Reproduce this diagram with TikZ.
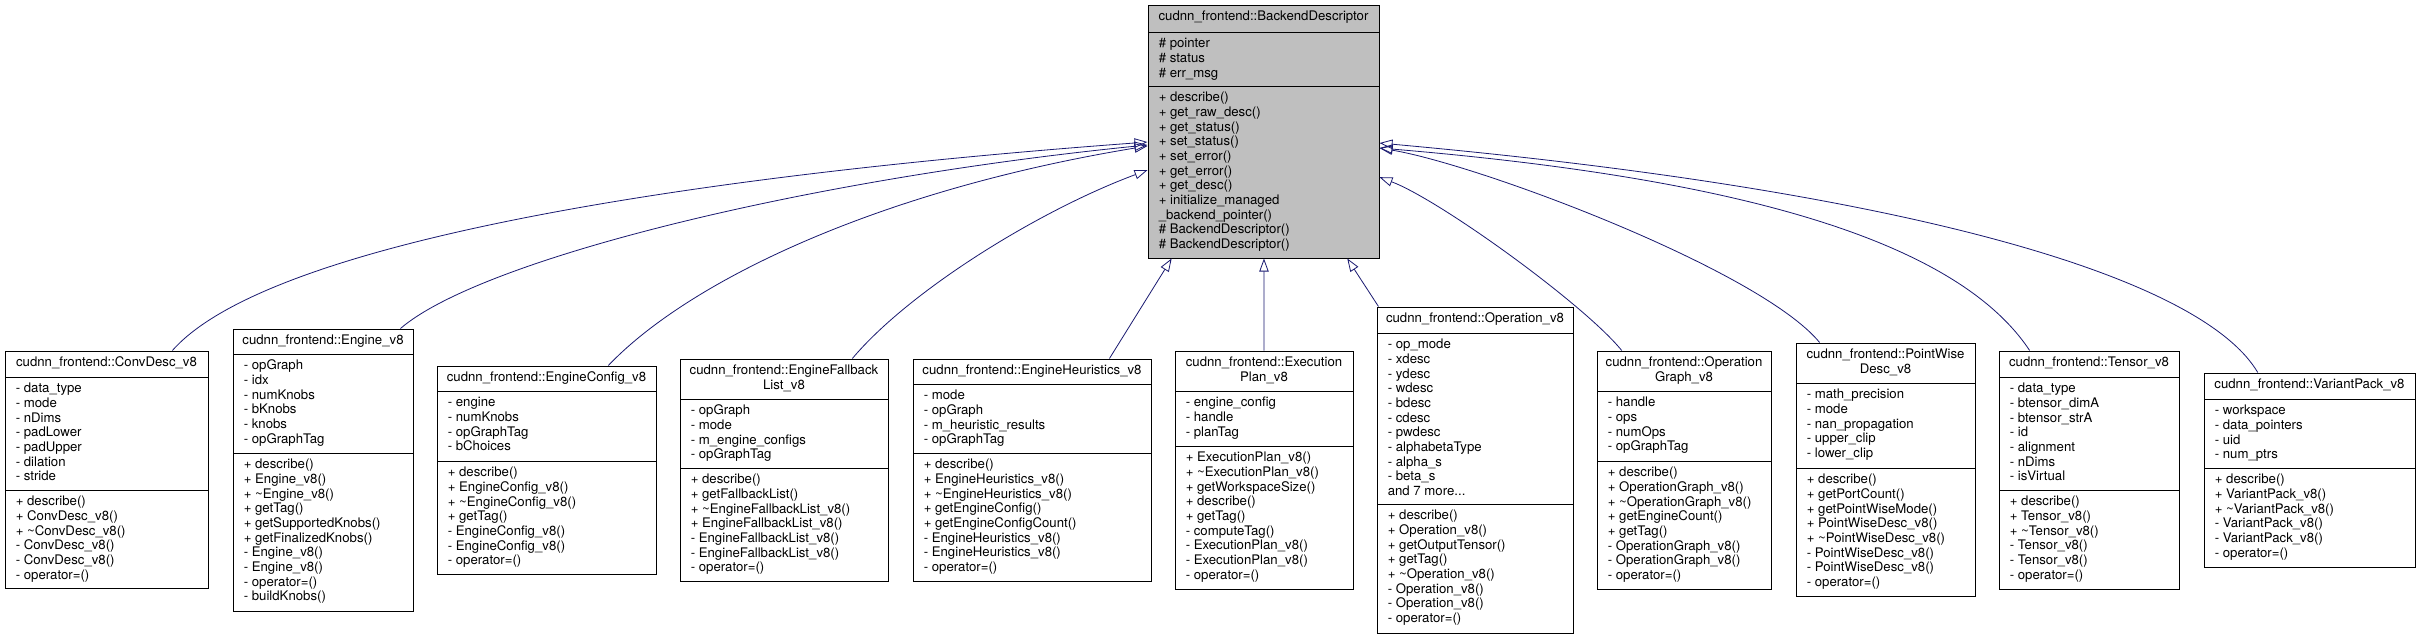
\documentclass[tikz,border=0pt]{standalone}
\usepackage{fontspec}
\setmainfont{TeX Gyre Heros}
\usetikzlibrary{arrows.meta,calc,fit}
\definecolor{edgeblue}{HTML}{191970}
\definecolor{basegray}{HTML}{BFBFBF}
\newcommand\firstl{\rule{0pt}{10pt}}
\def\parsegeo#1,#2,#3,#4,#5,#6\relax{\def\gxa{#1}\def\gya{#2}\def\gxb{#3}\def\gyb{#4}\def\gsa{#5}\def\gsb{#6}}
\tikzset{
  clsbox/.style={draw=black, line width=0.75pt, inner sep=0pt, fill=white},
  sepline/.style={draw=black, line width=0.75pt},
  ttl/.style={anchor=north, align=center, inner sep=0pt, font=\fontsize{9.9}{11}\selectfont},
  cmp/.style={anchor=north west, align=left, inner sep=0pt, font=\fontsize{9.9}{11}\selectfont},
  inh/.style={draw=edgeblue, line width=0.6pt, -{Triangle[open, length=9.75pt, width=7pt]}},
}
\newcommand\umlclass[6][]{%
  \parsegeo#3\relax
  \node[clsbox,#1,fit={(\gxa,\gya) (\gxb,\gyb)}] (#2) {};
  \draw[sepline] (\gxa,\gsa) -- (\gxb,\gsa);
  \draw[sepline] (\gxa,\gsb) -- (\gxb,\gsb);
  \node[ttl] (#2-title) at ({(\gxa+\gxb)/2},{\gya+2.2}) {\firstl #4};
  \node[cmp] (#2-attrs) at ({\gxa+10.5},{\gsa+2.2}) {\firstl #5};
  \node[cmp] (#2-ops) at ({\gxa+10.5},{\gsb+2.2}) {\firstl #6};
}
\begin{document}
\begin{tikzpicture}[x=0.75pt,y=-0.75pt]
\fill[white] (0,0) rectangle (2420,639);
\useasboundingbox (0,0) rectangle (2420,639);

\umlclass[fill=basegray]{base}{1148,5,1379,258,32,86}{cudnn\_frontend::BackendDescriptor}
 {\# pointer\\\# status\\\# err\_msg}
 {+ describe()\\+ get\_raw\_desc()\\+ get\_status()\\+ set\_status()\\+ set\_error()\\+ get\_error()\\+ get\_desc()\\+ initialize\_managed\\\_backend\_pointer()\\\# BackendDescriptor()\\\# BackendDescriptor()}

\umlclass{convdesc}{5,351,208,588,377,490}{cudnn\_frontend::ConvDesc\_v8}
 {- data\_type\\- mode\\- nDims\\- padLower\\- padUpper\\- dilation\\- stride}
 {+ describe()\\+ ConvDesc\_v8()\\+ \textasciitilde ConvDesc\_v8()\\- ConvDesc\_v8()\\- ConvDesc\_v8()\\- operator=()}

\umlclass{engine}{233,329,413,611,354,453}{cudnn\_frontend::Engine\_v8}
 {- opGraph\\- idx\\- numKnobs\\- bKnobs\\- knobs\\- opGraphTag}
 {+ describe()\\+ Engine\_v8()\\+ \textasciitilde Engine\_v8()\\+ getTag()\\+ getSupportedKnobs()\\+ getFinalizedKnobs()\\- Engine\_v8()\\- Engine\_v8()\\- operator=()\\- buildKnobs()}

\umlclass{engineconfig}{437,366,656,574,391,461}{cudnn\_frontend::EngineConfig\_v8}
 {- engine\\- numKnobs\\- opGraphTag\\- bChoices}
 {+ describe()\\+ EngineConfig\_v8()\\+ \textasciitilde EngineConfig\_v8()\\+ getTag()\\- EngineConfig\_v8()\\- EngineConfig\_v8()\\- operator=()}

\umlclass{fallback}{680,359,888,581,399,468}{cudnn\_frontend::EngineFallback\\List\_v8}
 {- opGraph\\- mode\\- m\_engine\_configs\\- opGraphTag}
 {+ describe()\\+ getFallbackList()\\+ \textasciitilde EngineFallbackList\_v8()\\+ EngineFallbackList\_v8()\\- EngineFallbackList\_v8()\\- EngineFallbackList\_v8()\\- operator=()}

\umlclass{heuristics}{913,359,1151,581,384,453}{cudnn\_frontend::EngineHeuristics\_v8}
 {- mode\\- opGraph\\- m\_heuristic\_results\\- opGraphTag}
 {+ describe()\\+ EngineHeuristics\_v8()\\+ \textasciitilde EngineHeuristics\_v8()\\+ getEngineConfig()\\+ getEngineConfigCount()\\- EngineHeuristics\_v8()\\- EngineHeuristics\_v8()\\- operator=()}

\umlclass{execplan}{1175,351,1353,589,391,446}{cudnn\_frontend::Execution\\Plan\_v8}
 {- engine\_config\\- handle\\- planTag}
 {+ ExecutionPlan\_v8()\\+ \textasciitilde ExecutionPlan\_v8()\\+ getWorkspaceSize()\\+ describe()\\+ getTag()\\- computeTag()\\- ExecutionPlan\_v8()\\- ExecutionPlan\_v8()\\- operator=()}

\umlclass{operation}{1377,307,1573,633,333,504}{cudnn\_frontend::Operation\_v8}
 {- op\_mode\\- xdesc\\- ydesc\\- wdesc\\- bdesc\\- cdesc\\- pwdesc\\- alphabetaType\\- alpha\_s\\- beta\_s\\and 7 more...}
 {+ describe()\\+ Operation\_v8()\\+ getOutputTensor()\\+ getTag()\\+ \textasciitilde Operation\_v8()\\- Operation\_v8()\\- Operation\_v8()\\- operator=()}

\umlclass{opgraph}{1597,351,1771,589,391,461}{cudnn\_frontend::Operation\\Graph\_v8}
 {- handle\\- ops\\- numOps\\- opGraphTag}
 {+ describe()\\+ OperationGraph\_v8()\\+ \textasciitilde OperationGraph\_v8()\\+ getEngineCount()\\+ getTag()\\- OperationGraph\_v8()\\- OperationGraph\_v8()\\- operator=()}

\umlclass{pointwise}{1796,343,1975,596,383,468}{cudnn\_frontend::PointWise\\Desc\_v8}
 {- math\_precision\\- mode\\- nan\_propagation\\- upper\_clip\\- lower\_clip}
 {+ describe()\\+ getPortCount()\\+ getPointWiseMode()\\+ PointWiseDesc\_v8()\\+ \textasciitilde PointWiseDesc\_v8()\\- PointWiseDesc\_v8()\\- PointWiseDesc\_v8()\\- operator=()}

\umlclass{tensor}{1999,351,2179,589,377,490}{cudnn\_frontend::Tensor\_v8}
 {- data\_type\\- btensor\_dimA\\- btensor\_strA\\- id\\- alignment\\- nDims\\- isVirtual}
 {+ describe()\\+ Tensor\_v8()\\+ \textasciitilde Tensor\_v8()\\- Tensor\_v8()\\- Tensor\_v8()\\- operator=()}

\umlclass{variantpack}{2204,373,2415,567,399,468}{cudnn\_frontend::VariantPack\_v8}
 {- workspace\\- data\_pointers\\- uid\\- num\_ptrs}
 {+ describe()\\+ VariantPack\_v8()\\+ \textasciitilde VariantPack\_v8()\\- VariantPack\_v8()\\- VariantPack\_v8()\\- operator=()}

% inheritance connectors
\draw[inh] ($(convdesc.north west)!0.823!(convdesc.north east)$) .. controls (270,240) and (700,175) .. ($(base.north west)!0.5415!(base.south west)$);
\draw[inh] ($(engine.north west)!0.928!(engine.north east)$) .. controls (480,260) and (800,180) .. ($(base.north west)!0.553!(base.south west)$);
\draw[inh] ($(engineconfig.north west)!0.781!(engineconfig.north east)$) .. controls (690,280) and (880,190) .. ($(base.north west)!0.557!(base.south west)$);
\draw[inh] ($(fallback.north west)!0.827!(fallback.north east)$) .. controls (910,290) and (1040,210) .. ($(base.north west)!0.652!(base.south west)$);
\draw[inh] ($(heuristics.north west)!0.824!(heuristics.north east)$) -- ($(base.south west)!0.104!(base.south east)$);
\draw[inh] (execplan.north) -- ($(base.south west)!0.502!(base.south east)$);
\draw[inh] ($(operation.north west)!0.01!(operation.north east)$) -- ($(base.south west)!0.861!(base.south east)$);
\draw[inh] ($(opgraph.north west)!0.144!(opgraph.north east)$) .. controls (1585,305) and (1440,200) .. ($(base.north east)!0.680!(base.south east)$);
\draw[inh] ($(pointwise.north west)!0.134!(pointwise.north east)$) .. controls (1760,270) and (1480,165) .. ($(base.north east)!0.565!(base.south east)$);
\draw[inh] ($(tensor.north west)!0.172!(tensor.north east)$) .. controls (1950,230) and (1700,175) .. ($(base.north east)!0.565!(base.south east)$);
\draw[inh] ($(variantpack.north west)!0.256!(variantpack.north east)$) .. controls (2200,275) and (1900,190) .. ($(base.north east)!0.5455!(base.south east)$);
\end{tikzpicture}
\end{document}
